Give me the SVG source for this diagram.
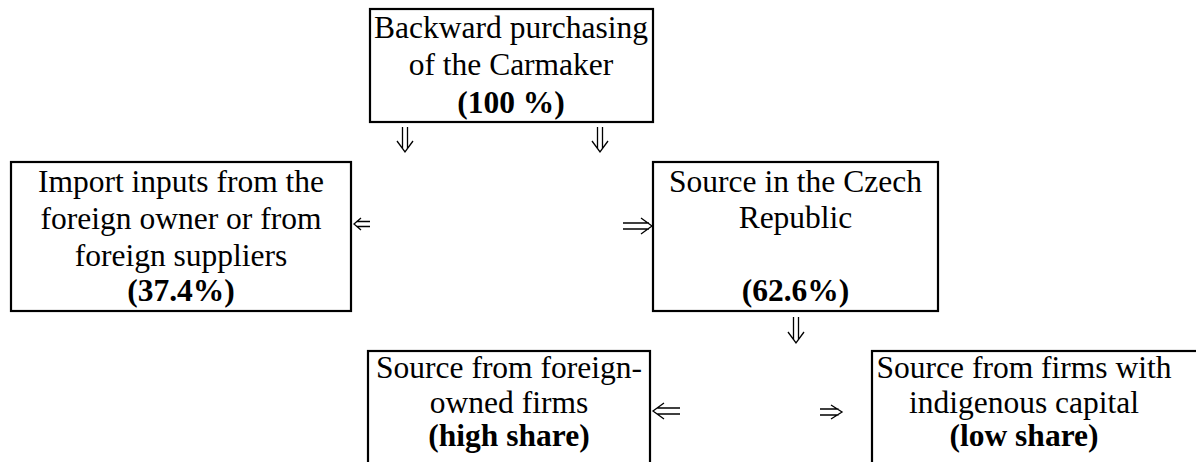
<svg xmlns="http://www.w3.org/2000/svg" width="1196" height="462" viewBox="0 0 1196 462">
<style>
.box{fill:#fff;stroke:#000;stroke-width:2.2}
.t{font-family:"Liberation Serif","Times New Roman",serif;font-size:31.5px;fill:#000;text-anchor:middle}
.b{font-weight:bold}
.arr{fill:none;stroke:#000;stroke-width:1.3;stroke-linejoin:miter}
</style>
<rect width="1196" height="462" fill="#fff"/>
<g id="connectors">
  <path class="arr" d="M402.5,127V148.5M407.5,127V148.5M397,141L405,152L413,141"/>
  <path class="arr" d="M597.5,127V148.5M602.5,127V148.5M592,141L600,152L608,141"/>
  <path class="arr" d="M370,221.5H356.5M370,226.5H356.5M361,218L354,224L361,230"/>
  <path class="arr" d="M623,223H649M623,229H649M641,218L652,226L641,234"/>
  <path class="arr" d="M793.5,317V339.5M798.5,317V339.5M788,332L796,343L804,332"/>
  <path class="arr" d="M680,408H657M680,414H657M664,403L653,411L664,419"/>
  <path class="arr" d="M820,409H838.5M820,415H838.5M831,405L842,412L831,419"/>
</g>
<g id="n-carmaker">
  <rect class="box" x="370" y="9" width="283" height="113"/>
  <text class="t" x="511" y="38">Backward purchasing</text>
  <text class="t" x="511" y="75">of the Carmaker</text>
  <text class="t b" x="511" y="113">(100 %)</text>
</g>
<g id="n-import">
  <rect class="box" x="11" y="162" width="340" height="149"/>
  <text class="t" x="181" y="192">Import inputs from the</text>
  <text class="t" x="181" y="229">foreign owner or from</text>
  <text class="t" x="181" y="266">foreign suppliers</text>
  <text class="t b" x="181" y="301">(37.4%)</text>
</g>
<g id="n-czech">
  <rect class="box" x="653" y="162" width="285" height="149"/>
  <text class="t" x="795.5" y="192">Source in the Czech</text>
  <text class="t" x="795.5" y="228">Republic</text>
  <text class="t b" x="795.5" y="301">(62.6%)</text>
</g>
<g id="n-foreign-owned">
  <rect class="box" x="368" y="351" width="282" height="140"/>
  <text class="t" x="509" y="378">Source from foreign-</text>
  <text class="t" x="509" y="413">owned firms</text>
  <text class="t b" x="509" y="446">(high share)</text>
</g>
<g id="n-indigenous">
  <rect class="box" x="872" y="351" width="340" height="140"/>
  <text class="t" x="1024" y="378">Source from firms with</text>
  <text class="t" x="1024" y="413">indigenous capital</text>
  <text class="t b" x="1024" y="446">(low share)</text>
</g>
</svg>
